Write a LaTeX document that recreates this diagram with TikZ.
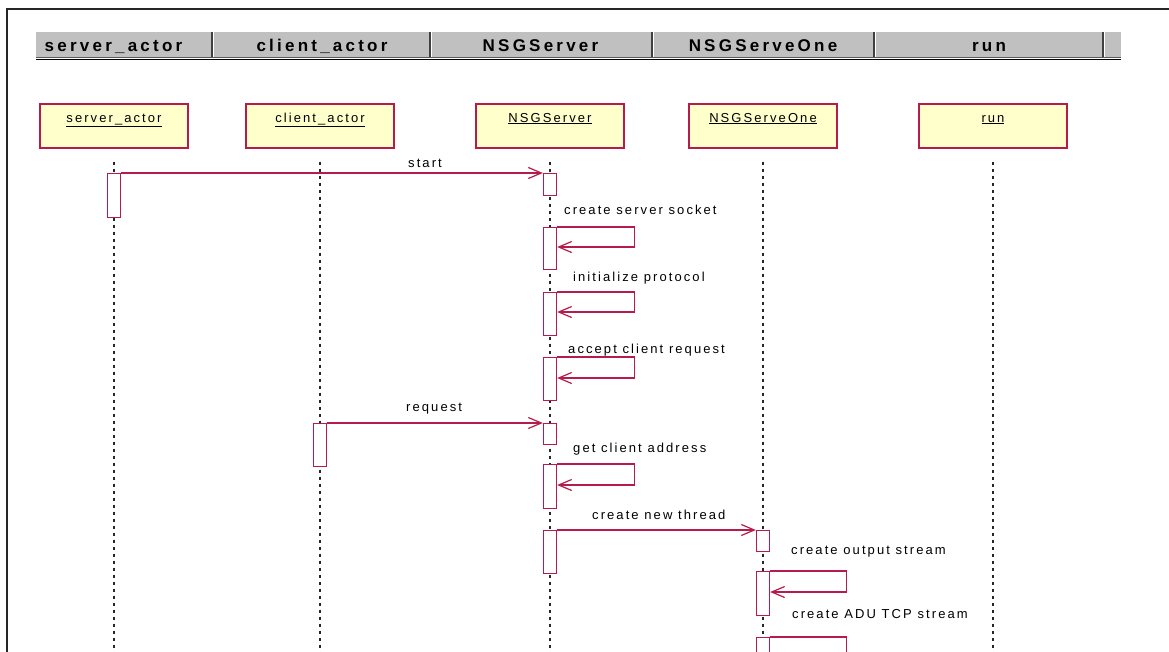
\documentclass[tikz,border=0pt]{standalone}
\usepackage{fontspec}
\setmainfont{Liberation Sans}
\newfontfamily\lblfont[LetterSpace=16]{Liberation Sans}
\newfontfamily\hdrfont[LetterSpace=19]{Liberation Sans}
\usetikzlibrary{arrows.meta,calc}
\definecolor{umlred}{RGB}{183,27,76}
\definecolor{objfill}{RGB}{255,255,204}
\definecolor{hdrgray}{RGB}{192,192,192}
\tikzset{
  objbox/.style={draw=umlred, fill=objfill, line width=1.5pt, minimum width=148pt, minimum height=44pt, inner sep=0pt, anchor=north},
  objlbl/.style={font=\lblfont\fontsize{13}{15}\selectfont, anchor=base, inner sep=0pt, yshift=-19pt},
  act/.style={draw=umlred, fill=white, line width=1.3pt, minimum width=13pt, inner sep=0pt, anchor=north},
  msg/.style={draw=umlred, line width=1.2pt, -{Straight Barb[length=13pt,width=11pt,line width=1.2pt]}},
  lifeline/.style={line width=2pt, dash pattern=on 3.5pt off 3.5pt, black!85},
  msglbl/.style={font=\lblfont\fontsize{13}{15}\selectfont, anchor=base west, inner sep=0pt},
  hdr/.style={font=\hdrfont\bfseries\fontsize{17}{20}\selectfont, anchor=base, inner sep=0pt},
}
\begin{document}
\begin{tikzpicture}[x=1pt,y=-1pt]
\useasboundingbox (0,0) rectangle (1169,651);
\clip (0,0) rectangle (1169,651);
\fill[white] (0,0) rectangle (1169,651);
% frame
\draw[line width=2pt, black!85] (7,660) -- (7,9) -- (1175,9);
% header bar
\fill[hdrgray] (36,32) rectangle (1121,57);
\draw[line width=1.6pt, black!65] (36,57.3) -- (1121,57.3);
\draw[line width=1pt, black] (36,59.5) -- (1121,59.5);
\foreach \sx in {212,430,652,874,1103}{
  \draw[line width=2pt, black!75] (\sx,32) -- (\sx,57);
  \draw[line width=1pt, white] (\sx+1.6,32) -- (\sx+1.6,57);
}
\node[hdr] (h1) at (113.5,51) {server\_actor};
\node[hdr] (h2) at (322,51) {client\_actor};
\node[hdr] (h3) at (540.5,51) {NSGServer};
\node[hdr] (h4) at (763,51) {NSGServeOne};
\node[hdr] (h5) at (989,51) {run};
% object boxes
\node[objbox, label={[objlbl]north:\underline{server\_actor}}] (sa) at (114,103) {};
\node[objbox, label={[objlbl]north:\underline{client\_actor}}] (ca) at (320,103) {};
\node[objbox, label={[objlbl]north:\underline{NSGServer}}] (ns) at (550,103) {};
\node[objbox, label={[objlbl]north:\underline{NSGServeOne}}] (no) at (763,103) {};
\node[objbox, label={[objlbl]north:\underline{run}}] (rn) at (993,103) {};
% lifeline ends
\coordinate (saend) at (114,660);
\coordinate (caend) at (320,660);
\coordinate (nsend) at (550,660);
\coordinate (noend) at (763,660);
\coordinate (rnend) at (993,660);
\draw[lifeline] ($(sa.south)+(0,13)$) -- (saend);
\draw[lifeline] ($(ca.south)+(0,13)$) -- (caend);
\draw[lifeline] ($(ns.south)+(0,13)$) -- (nsend);
\draw[lifeline] ($(no.south)+(0,13)$) -- (noend);
\draw[lifeline] ($(rn.south)+(0,13)$) -- (rnend);
% activations
\node[act, minimum height=44pt] (sa1) at (114,173) {};
\node[act, minimum height=22pt] (ns1) at (550,173) {};
\node[act, minimum height=42pt] (ns2) at (550,227) {};
\node[act, minimum height=43pt] (ns3) at (550,292) {};
\node[act, minimum height=43pt] (ns4) at (550,357) {};
\node[act, minimum height=43pt] (ca1) at (320,423) {};
\node[act, minimum height=21pt] (ns5) at (550,423) {};
\node[act, minimum height=44pt] (ns6) at (550,464) {};
\node[act, minimum height=43pt] (ns7) at (550,530) {};
\node[act, minimum height=21pt] (no1) at (763,530) {};
\node[act, minimum height=44pt] (no2) at (763,571) {};
\node[act, minimum height=60pt] (no3) at (763,637) {};
% messages
\draw[msg] (sa1.north east) -- (ns1.north west);
\draw[msg] (ns2.north east) -- ++(77,0) |- ($(ns2.north east)+(0,20)$);
\draw[msg] (ns3.north east) -- ++(77,0) |- ($(ns3.north east)+(0,20)$);
\draw[msg] (ns4.north east) -- ++(77,0) |- ($(ns4.north east)+(0,21)$);
\draw[msg] (ca1.north east) -- (ns5.north west);
\draw[msg] (ns6.north east) -- ++(77,0) |- ($(ns6.north east)+(0,21)$);
\draw[msg] (ns7.north east) -- (no1.north west);
\draw[msg] (no2.north east) -- ++(76,0) |- ($(no2.north east)+(0,21)$);
\draw[msg] (no3.north east) -- ++(76,0) |- ($(no3.north east)+(0,21)$);
% message labels
\node[msglbl] (l1) at (408,167) {start};
\node[msglbl] (l2) at (564,214) {create server socket};
\node[msglbl] (l3) at (573,281) {initialize protocol};
\node[msglbl] (l4) at (568,353) {accept client request};
\node[msglbl] (l5) at (406,411) {request};
\node[msglbl] (l6) at (573,452) {get client address};
\node[msglbl] (l7) at (592,519) {create new thread};
\node[msglbl] (l8) at (791,554) {create output stream};
\node[msglbl] (l9) at (792,618) {create ADU TCP stream};
\end{tikzpicture}
\end{document}
